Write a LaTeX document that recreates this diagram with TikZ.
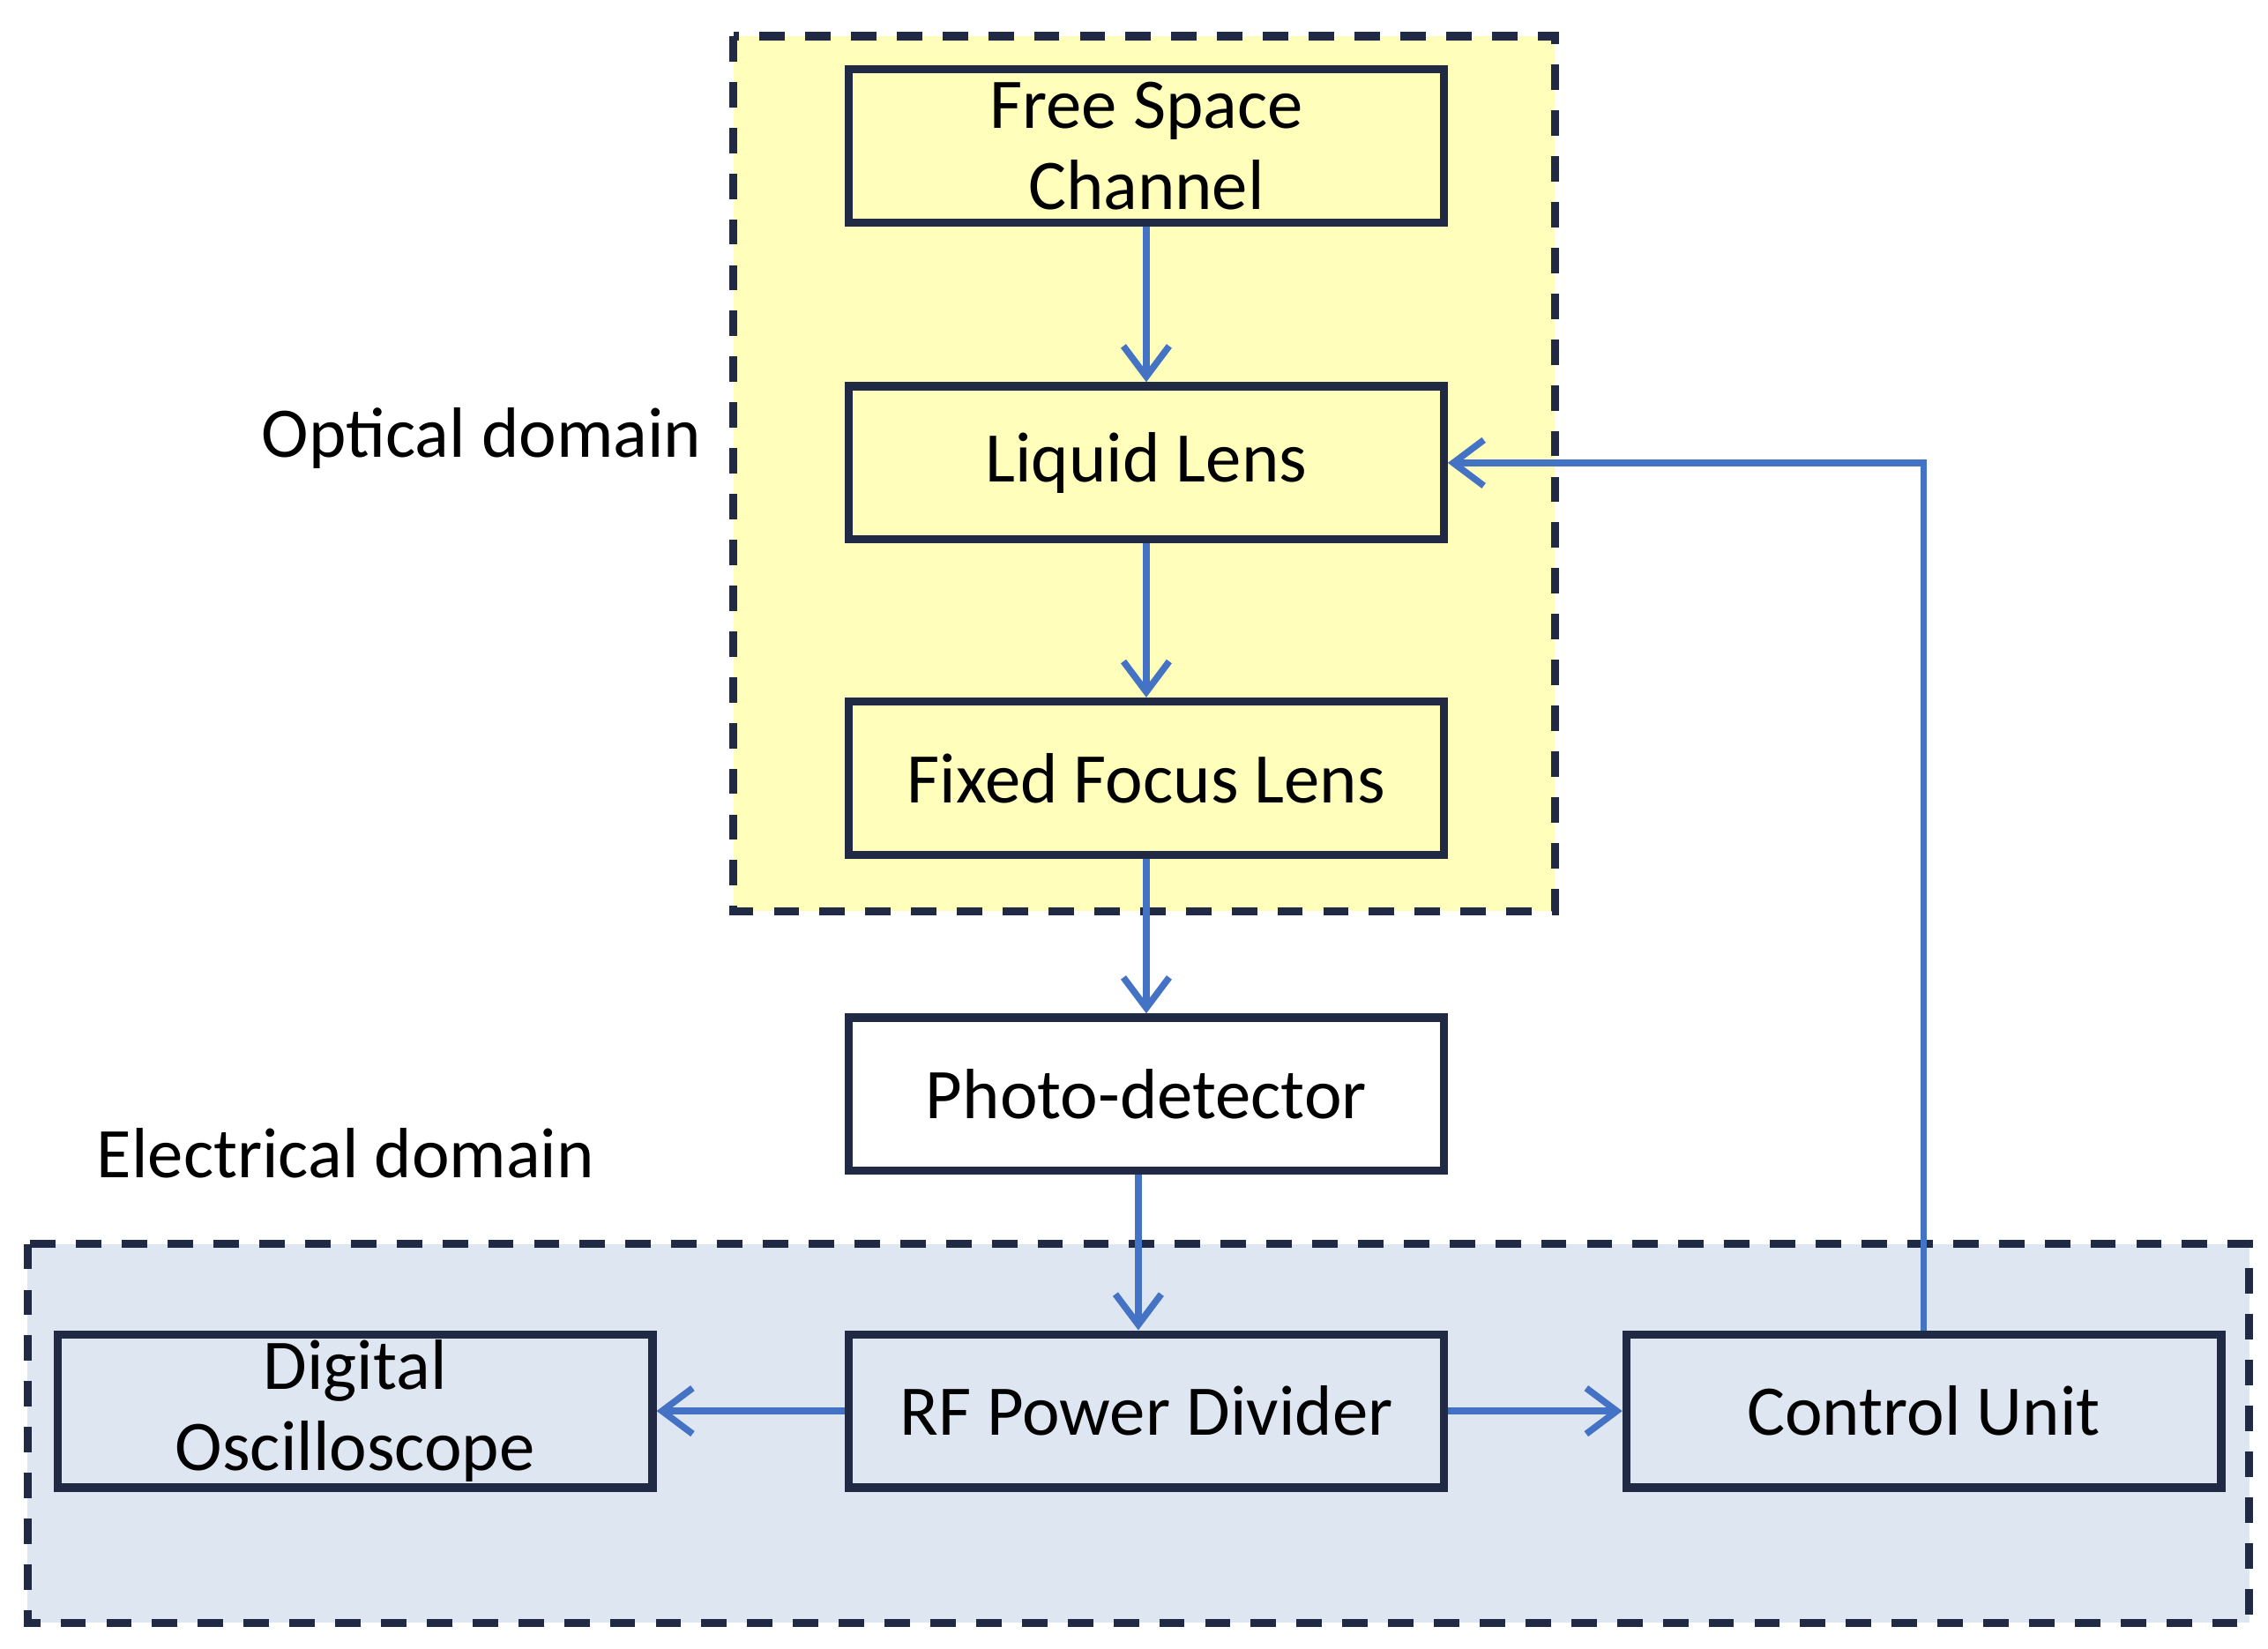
\documentclass[tikz,border=0pt]{standalone}
\usepackage{fontspec}
\setmainfont{Carlito}
\usetikzlibrary{arrows.meta}
\definecolor{ylw}{RGB}{255,255,187}
\definecolor{lblue}{RGB}{222,230,242}
\definecolor{dk}{RGB}{32,42,68}
\definecolor{arr}{RGB}{68,114,196}
\begin{document}
\begin{tikzpicture}[x=0.01cm,y=-0.01cm,
  box/.style={draw=dk,line width=1.6pt,minimum width=4.11cm,minimum height=1.06cm,inner sep=0pt,align=center,font=\fontsize{14}{17}\selectfont},
  region/.style={draw=dk,line width=1.6pt,dash pattern=on 5pt off 4pt},
  a/.style={draw=arr,line width=1.3pt,-{Straight Barb[length=6pt,width=9pt]}},
  lbl/.style={font=\fontsize{14}{17}\selectfont}]
\useasboundingbox (0,0) rectangle (1568,1140);
\draw[region,fill=ylw] (507,25) rectangle (1075,630);
\draw[region,fill=lblue] (19,860) rectangle (1555,1122);
\node[box,fill=ylw] (fsc) at (792.5,101) {Free Space\\[-1pt]Channel};
\node[box,fill=ylw] (ll) at (792.5,320) {Liquid Lens};
\node[box,fill=ylw] (ffl) at (792.5,538) {Fixed Focus Lens};
\node[box,fill=white] (pd) at (792.5,756.5) {Photo-detector};
\node[box,fill=lblue] (do) at (245.5,975.5) {Digital\\[-1pt]Oscilloscope};
\node[box,fill=lblue] (rf) at (792.5,975.5) {RF Power Divider};
\node[box,fill=lblue] (cu) at (1330,975.5) {Control Unit};
\node[lbl] (od) at (333,303) {Optical domain};
\node[lbl] (ed) at (239,797) {Electrical domain};
\draw[a] (fsc) -- (ll);
\draw[a] (ll) -- (ffl);
\draw[a] (ffl) -- (pd);
\draw[a] (pd.south -| 787,0) -- (rf.north -| 787,0);
\draw[a] (rf) -- (do);
\draw[a] (rf) -- (cu);
\draw[a] (cu.north) |- (ll.east);
\end{tikzpicture}
\end{document}
